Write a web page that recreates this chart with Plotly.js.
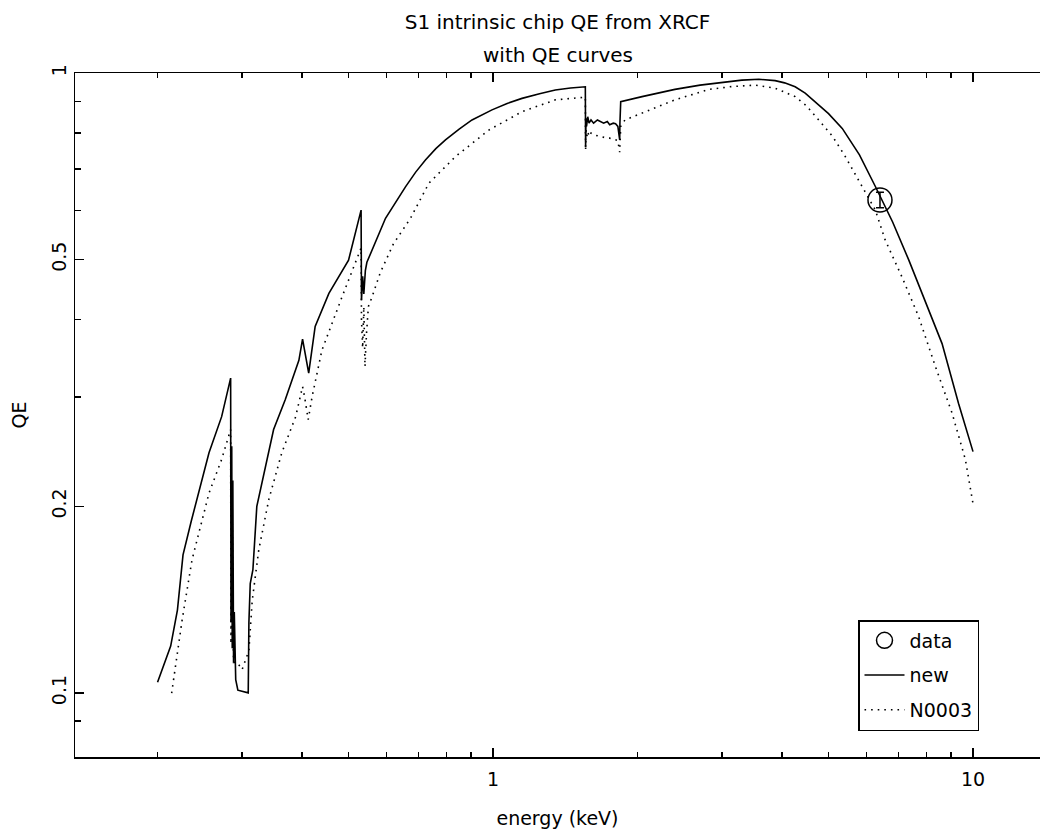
<!DOCTYPE html>
<html>
<head>
<meta charset="utf-8">
<script src="https://cdn.plot.ly/plotly-3.0.1.min.js"></script>
<style>html,body{margin:0;padding:0;background:#fff;}#chart{width:1043px;height:833px;}</style>
</head>
<body>
<div id="chart"></div>
<script>
// "new" QE curve (solid)
var newEnergy = [0.200,0.213,0.220,0.226,0.235,0.256,0.272,0.284,
  0.2845,0.2855,0.2862,0.2870,0.2880,0.2890,0.2910,0.2940,0.3090,0.3100,0.3120,0.3160,
  0.322,0.349,0.369,0.394,0.401,0.405,0.410,0.413,0.426,0.455,0.500,0.531,
  0.532,0.535,0.538,0.542,0.546,0.552,0.578,0.597,0.657,0.690,0.723,0.760,0.796,0.850,0.904,0.995,1.070,1.149,1.250,1.348,1.450,1.557,
  1.559,1.562,1.566,1.575,1.585,1.600,1.620,1.650,1.680,1.700,1.730,1.750,1.780,1.800,1.820,1.836,1.838,
  1.845,2.044,2.393,2.700,3.043,3.300,3.580,3.870,4.050,4.260,4.470,4.690,5.000,5.340,5.800,6.260,6.800,7.350,8.090,8.620,9.330,10.00];
var newQE = [0.104,0.119,0.136,0.167,0.189,0.244,0.279,0.322,
  0.130,0.250,0.118,0.220,0.112,0.135,0.105,0.101,0.100,0.130,0.150,0.158,
  0.200,0.266,0.297,0.344,0.372,0.355,0.335,0.328,0.390,0.441,0.499,0.601,
  0.430,0.470,0.440,0.480,0.495,0.505,0.551,0.583,0.655,0.692,0.724,0.755,0.780,0.812,0.840,0.872,0.893,0.910,0.926,0.939,0.946,0.950,
  0.760,0.845,0.820,0.850,0.830,0.840,0.830,0.840,0.835,0.830,0.835,0.825,0.830,0.828,0.820,0.780,0.830,
  0.899,0.916,0.941,0.956,0.968,0.974,0.977,0.972,0.964,0.950,0.928,0.899,0.860,0.814,0.738,0.656,0.575,0.499,0.415,0.366,0.293,0.245];

// "N0003" QE curve (dotted)
var oldEnergy = [0.214,0.225,0.236,0.256,0.272,0.284,
  0.2845,0.2860,0.2880,0.2930,0.3000,0.3100,0.3150,0.325,0.341,0.363,0.388,0.401,0.405,0.410,0.412,
  0.420,0.440,0.485,0.531,0.532,0.535,0.538,0.541,0.545,0.550,0.560,0.582,0.620,0.673,0.735,0.835,0.980,1.149,1.348,1.557,
  1.559,1.562,1.568,1.575,1.585,1.600,1.620,1.650,1.680,1.700,1.730,1.750,1.780,1.800,1.820,1.836,1.838,
  1.845,1.883,2.044,2.393,2.818,3.150,3.515,3.870,4.260,4.500,4.770,5.100,5.420,5.870,6.260,6.560,7.110,7.700,8.350,9.040,9.640,10.00];
var oldQE = [0.0999,0.131,0.164,0.210,0.238,0.266,
  0.120,0.200,0.112,0.112,0.109,0.117,0.141,0.170,0.205,0.244,0.279,0.312,0.300,0.285,0.276,
  0.301,0.357,0.436,0.522,0.400,0.360,0.420,0.336,0.380,0.420,0.436,0.476,0.530,0.583,0.664,0.733,0.809,0.866,0.905,0.914,
  0.750,0.810,0.790,0.805,0.790,0.800,0.795,0.792,0.790,0.788,0.785,0.785,0.782,0.780,0.778,0.745,0.780,
  0.820,0.840,0.861,0.905,0.941,0.951,0.956,0.945,0.916,0.885,0.840,0.790,0.733,0.656,0.601,0.538,0.469,0.405,0.336,0.283,0.238,0.202];

// measured data point
var dataEnergy = [6.40];
var dataQE = [0.624];
var dataErr = [0.018];

var xTickVals = [1, 10];
var xTickText = ['1', '10'];
var xMinorVals = [0.2,0.3,0.4,0.5,0.6,0.7,0.8,0.9,2,3,4,5,6,7,8,9];
var yTickVals = [0.1, 0.2, 0.5, 1];
var yTickText = ['0.1', '0.2', '0.5', '1'];
var yMinorVals = [0.09,0.3,0.4,0.6,0.7,0.8,0.9];

var FONT = 'DejaVu Sans, Liberation Sans, sans-serif';
var FS = 19;

var traces = [
  {x: dataEnergy, y: dataQE, name: 'data', mode: 'markers', type: 'scatter',
   legendgroup: 'a',
   marker: {symbol: 'circle-open', size: 24, color: '#000', line: {width: 1.5, color: '#000'}},
   error_y: {type: 'data', array: dataErr, visible: true, color: '#000', thickness: 1.5, width: 4}},
  {x: newEnergy, y: newQE, name: 'new', mode: 'lines', type: 'scatter',
   legendgroup: 'b',
   line: {color: '#000', width: 1.6}},
  {x: oldEnergy, y: oldQE, name: 'N0003', mode: 'lines', type: 'scatter',
   legendgroup: 'c',
   line: {color: '#000', width: 1.6, dash: '1.6px,5px'}}
];

var layout = {
  width: 1043, height: 833,
  margin: {l: 75, r: 3, t: 73, b: 76},
  paper_bgcolor: '#fff', plot_bgcolor: '#fff',
  font: {family: FONT, size: FS, color: '#000'},
  showlegend: true,
  title: {text: 'S1 intrinsic chip QE from XRCF', font: {family: FONT, size: 20, color: '#000'},
          x: 0.5, xref: 'paper', y: 1 - 22/833, yref: 'container', yanchor: 'middle'},
  annotations: [
    {text: 'with QE curves', xref: 'paper', yref: 'paper', x: 0.5, y: (757-55)/684,
     xanchor: 'center', yanchor: 'middle', showarrow: false, font: {family: FONT, size: 20, color: '#000'}}
  ],
  xaxis: {
    type: 'log', range: [Math.log10(0.1346), Math.log10(13.79)],
    tickvals: xTickVals, ticktext: xTickText,
    ticks: 'inside', ticklen: 9, tickwidth: 1.5, tickcolor: '#000',
    showline: true, linewidth: 1.5, linecolor: '#000', mirror: 'ticks',
    showgrid: false, zeroline: false, ticklabelstandoff: 5,
    tickfont: {family: FONT, size: FS, color: '#000'},
    minor: {tickvals: xMinorVals, ticks: 'inside', ticklen: 5, tickwidth: 1.5, tickcolor: '#000', showgrid: false},
    title: {text: 'energy (keV)', font: {family: FONT, size: FS, color: '#000'}, standoff: 22}
  },
  yaxis: {
    type: 'log', range: [Math.log10(0.0788), 0],
    tickvals: yTickVals, ticktext: yTickText, tickangle: -90,
    ticks: 'inside', ticklen: 9, tickwidth: 1.5, tickcolor: '#000',
    showline: true, linewidth: 1.5, linecolor: '#000', mirror: false,
    showgrid: false, zeroline: false, ticklabelstandoff: 0,
    tickfont: {family: FONT, size: FS, color: '#000'},
    minor: {tickvals: yMinorVals, ticks: 'inside', ticklen: 6, tickwidth: 1.5, tickcolor: '#000', showgrid: false},
    title: {text: 'QE', font: {family: FONT, size: FS, color: '#000'}, standoff: 16}
  },
  legend: {
    x: (858-75)/965, y: (757-620)/684, xanchor: 'left', yanchor: 'top',
    bgcolor: '#fff', bordercolor: '#000', borderwidth: 1.5,
    font: {family: FONT, size: FS, color: '#000'},
    tracegroupgap: 7, itemwidth: 40, entrywidth: 120
  }
};

Plotly.newPlot('chart', traces, layout, {displayModeBar: false, staticPlot: true});
</script>
</body>
</html>
